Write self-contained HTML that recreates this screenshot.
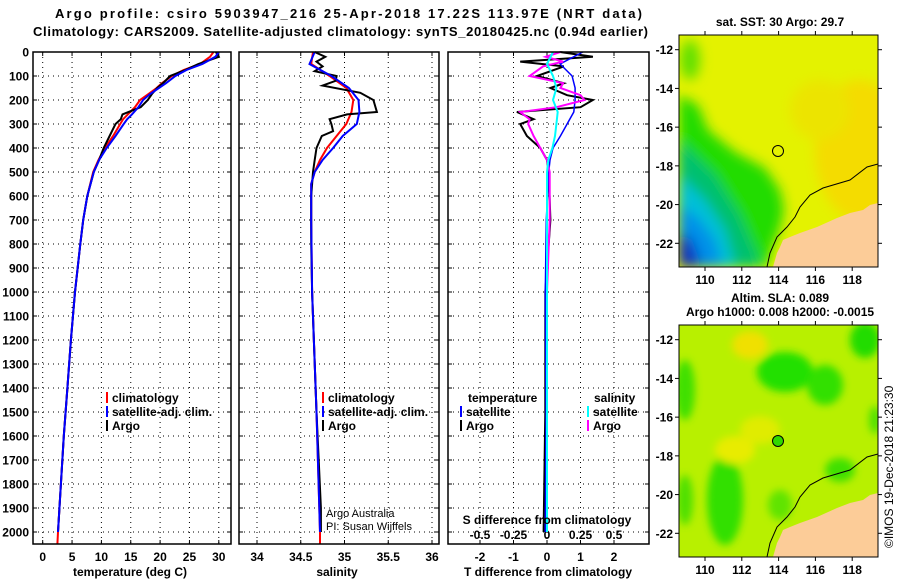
<!DOCTYPE html>
<html><head><meta charset="utf-8">
<style>
html,body{margin:0;padding:0;background:#fff;}
svg{display:block;font-family:"Liberation Sans",sans-serif;font-weight:bold;}
</style></head>
<body>
<svg id="c" width="900" height="580" viewBox="0 0 900 580" xmlns="http://www.w3.org/2000/svg">
<defs>
<filter id="blur" x="-50%" y="-50%" width="200%" height="200%"><feGaussianBlur stdDeviation="6"/></filter>
<filter id="blur2" x="-50%" y="-50%" width="200%" height="200%"><feGaussianBlur stdDeviation="4"/></filter>
<clipPath id="m1"><rect x="679" y="35" width="199" height="232"/></clipPath>
<clipPath id="m2"><rect x="679" y="325" width="199" height="232"/></clipPath>
</defs>
<text x="55" y="18" font-size="13" textLength="587">Argo profile: csiro 5903947_216 25-Apr-2018 17.22S 113.97E (NRT data)</text>
<text x="33" y="36" font-size="13" textLength="615">Climatology: CARS2009. Satellite-adjusted climatology: synTS_20180425.nc (0.94d earlier)</text>
<g id="plots"></g>
<!-- map 1 -->
<g>
<text x="780" y="26" font-size="12" text-anchor="middle">sat. SST: 30 Argo: 29.7</text>
<g clip-path="url(#m1)">
<rect x="679" y="35" width="199" height="232" fill="#e4f200"/>
<g filter="url(#blur)">
<ellipse cx="860" cy="150" rx="45" ry="70" fill="#f4dc00"/>
<ellipse cx="820" cy="110" rx="30" ry="30" fill="#ece400"/>
<polygon points="679,95 698,105 708,130 735,152 765,168 780,190 784,210 780,228 772,248 767,267 679,267" fill="#20dc00"/>
<polygon points="679,140 715,175 740,215 755,250 760,267 679,267" fill="#00c070"/>
<polygon points="679,175 705,200 725,230 735,267 679,267" fill="#00c0d8"/>
<polygon points="679,205 698,218 715,240 722,267 679,267" fill="#0090e8"/>
<polygon points="679,232 692,240 702,267 679,267" fill="#1030c0"/>
<ellipse cx="690" cy="60" rx="10" ry="20" fill="#60e000"/>
</g>
<polygon points="878,203 870,205 863,210 850,213 837,218 817,227 800,233 790,237 783,240 780,247 777,253 773,267 878,267" fill="#fccc98"/>
<polyline points="878,164 867,167 850,180 823,188 810,195 800,207 795,217 787,227 777,237 770,253 767,267" fill="none" stroke="#000" stroke-width="1"/>
</g>
<rect x="679" y="35" width="199" height="232" fill="none" stroke="#000"/>
<circle cx="778" cy="151" r="5.5" fill="none" stroke="#000"/>
<g id="map1ax"></g>
</g>
<!-- map 2 -->
<g>
<text x="780" y="302" font-size="12" text-anchor="middle">Altim. SLA: 0.089</text>
<text x="780" y="316" font-size="12" text-anchor="middle">Argo h1000: 0.008 h2000: -0.0015</text>
<g clip-path="url(#m2)">
<rect x="679" y="325" width="199" height="232" fill="#b8f000"/>
<g filter="url(#blur2)">
<ellipse cx="750" cy="345" rx="18" ry="14" fill="#f0e000"/>
<ellipse cx="785" cy="372" rx="28" ry="20" fill="#20e000"/>
<ellipse cx="825" cy="385" rx="18" ry="20" fill="#30e000"/>
<ellipse cx="865" cy="340" rx="15" ry="18" fill="#20dc00"/>
<ellipse cx="685" cy="390" rx="10" ry="30" fill="#40e000"/>
<ellipse cx="725" cy="500" rx="18" ry="45" fill="#30e000"/>
<ellipse cx="685" cy="500" rx="8" ry="25" fill="#50e000"/>
<ellipse cx="735" cy="450" rx="20" ry="14" fill="#e8ec00"/>
<ellipse cx="760" cy="430" rx="20" ry="14" fill="#e0ec00"/>
<ellipse cx="840" cy="470" rx="15" ry="12" fill="#40e000"/>
<ellipse cx="780" cy="505" rx="12" ry="15" fill="#60e400"/>
<ellipse cx="875" cy="420" rx="6" ry="14" fill="#50e000"/>
</g>
<polygon points="878,493 870,495 863,500 850,503 837,508 817,517 800,523 790,527 783,530 780,537 777,543 773,557 878,557" fill="#fccc98"/>
<polyline points="878,454 867,457 850,470 823,478 810,485 800,497 795,507 787,517 777,527 770,543 767,557" fill="none" stroke="#000" stroke-width="1"/>
</g>
<rect x="679" y="325" width="199" height="232" fill="none" stroke="#000"/>
<circle cx="778" cy="441" r="5.5" fill="#30d800" stroke="#000"/>
<g id="map2ax"></g>
<text transform="translate(893,548) rotate(-90)" font-size="12" font-weight="normal">©IMOS 19-Dec-2018 21:23:30</text>
</g>
</svg>
<script>
// ---- data ----
const depthTicks = [0,100,200,300,400,500,600,700,800,900,1000,1100,1200,1300,1400,1500,1600,1700,1800,1900,2000];
const tempTicks = [0,5,10,15,20,25,30];
const salTicks = [34,34.5,35,35.5,36];
const salTickLabels = ['34','34.5','35','35.5','36'];
const tdiffTicks = [-2,-1,0,1,2];
const sdiffTicks = [-0.5,-0.25,0,0.25,0.5];
const sdiffTickLabels = ['-0.5','-0.25','0','0.25','0.5'];

const tDepth = [0,20,50,75,100,130,150,175,200,230,260,280,300,350,400,450,500,600,700,800,1000,1200,1400,1600,1800,2000,2050];
const tClim = [29.1,28.5,26.8,24,22,20.3,19.4,18,16.6,15.7,14.5,13.7,13.2,12,10.6,9.5,8.6,7.6,6.9,6.4,5.5,4.8,4.2,3.6,3.1,2.6,2.5];
const tSatDepth = [0,20,50,75,100,130,150,175,200,230,260,280,300,350,400,450,500,600,700,800,1000,1200,1400,1600,1800,2000];
const tSat = [30,29.4,27.2,24.5,22.6,21,19.8,18.3,17.1,16.3,15.2,14.4,13.8,12.4,10.9,9.6,8.7,7.6,6.9,6.4,5.5,4.8,4.2,3.6,3.1,2.6];
const tArgoDepth = [0,20,50,75,100,130,150,175,200,230,260,280,300,350,400,450,500,600,700,800,1000,1200,1400,1600,1800,2000];
const tArgo = [29.5,30,26.5,24.3,21.7,20.5,19.5,18.6,17.9,16.7,13.6,13.3,12.4,11.4,10.4,9.6,8.7,7.6,6.9,6.4,5.5,4.8,4.2,3.6,3.1,2.6];

const sDepth = [0,50,100,150,200,250,300,350,400,450,500,550,700,1000,1500,2000,2050];
const sClim = [34.64,34.62,34.83,35.02,35.1,35.08,35.02,34.91,34.8,34.72,34.66,34.62,34.62,34.63,34.68,34.72,34.72];
const sSatDepth = [0,50,100,150,200,250,300,350,400,450,500,550,700,1000,1500,2000];
const sSat = [34.66,34.6,34.85,35.05,35.16,35.17,35.14,34.98,34.87,34.75,34.66,34.62,34.62,34.63,34.68,34.72];
const sArgoDepth = [0,20,40,60,80,100,120,140,170,200,250,260,280,300,330,350,400,450,500,600,800,1000,1500,1900,2000];
const sArgo = [34.66,34.78,34.68,34.75,34.66,34.91,34.9,34.75,35.18,35.33,35.37,35.03,34.83,34.85,34.87,34.74,34.68,34.66,34.64,34.62,34.62,34.63,34.68,34.73,34.73];

const dDepth = [0,50,100,150,200,250,300,350,400,450,500,700,1000,1500,2000];
const dTsat = [1.07,0.39,0.75,0.84,0.84,0.8,0.6,0.4,0.18,0.09,0.05,-0.02,-0.05,-0.03,-0.05];
const dSsat = [0.045,0,0.045,0.07,0.045,0.08,0.07,0.06,0.04,0.01,0,0,0,0,0];
const aDepth = [0,20,40,60,100,130,150,180,200,230,250,280,300,350,400,450,500,700,1000,1500,2000];
const dTargo = [0.39,1.37,-0.8,0.5,-0.3,0.5,0.1,0.6,1.37,1.0,-0.9,-0.4,-0.8,-0.6,-0.2,0,0.05,0.1,-0.05,-0.05,-0.1];
const dSargo = [0.1,-0.01,0.12,-0.03,-0.13,0.12,0.1,0.25,0.28,0.07,-0.2,-0.13,-0.14,-0.1,-0.05,0,0.02,0.02,0,0,0];

const lonTicks = [110,112,114,116,118];
const latTicks = [-12,-14,-16,-18,-20,-22];

// ---- geometry ----
const NS = 'http://www.w3.org/2000/svg';
const TOP = 52, BOT = 544;
const yD = d => TOP + d * 0.24;
const xT = v => 42.7 + v * 5.87;
const xS = v => 257 + (v - 34) * 87.5;
const xTd = v => 547 + v * 33.5;
const xSd = v => 547 + v * 134;
const panels = [[33,231],[239,439],[448,649]];
const root = document.getElementById('plots');
function mk(tag, attrs, parent, text){
  const e = document.createElementNS(NS, tag);
  for (const k in attrs) e.setAttribute(k, attrs[k]);
  if (text !== undefined) e.textContent = text;
  (parent || root).appendChild(e);
  return e;
}
function line(xs, ds, xf, color, w, name){
  const pts = xs.map((v,i) => xf(v).toFixed(1) + ',' + yD(ds[i]).toFixed(1)).join(' ');
  const p = mk('polyline', {points: pts, fill: 'none', stroke: color, 'stroke-width': w});
  
  
}
panels.forEach((p, pi) => {
  depthTicks.forEach(d => {
    const g = mk('line', {x1: p[0], x2: p[1], y1: yD(d), y2: yD(d), stroke: '#000', 'stroke-width': 1, 'stroke-dasharray': '1,4'});
    
    
    mk('line', {x1: p[0], x2: p[0]+4, y1: yD(d), y2: yD(d), stroke: '#000'});
    mk('line', {x1: p[1]-4, x2: p[1], y1: yD(d), y2: yD(d), stroke: '#000'});
  });
});
depthTicks.forEach(d => {
  const t = mk('text', {x: 29, y: yD(d) + 4.5, 'font-size': 12, 'text-anchor': 'end'}, root, String(d));
  
  
});
function xaxis(ticks, labels, xf, pi){
  ticks.forEach((v, i) => {
    const x = xf(v);
    const g = mk('line', {x1: x, x2: x, y1: TOP, y2: BOT, stroke: '#000', 'stroke-dasharray': '1,4'});
    
    
    mk('line', {x1: x, x2: x, y1: BOT-4, y2: BOT, stroke: '#000'});
    mk('line', {x1: x, x2: x, y1: TOP, y2: TOP+4, stroke: '#000'});
    const t = mk('text', {x: x, y: 561, 'font-size': 12, 'text-anchor': 'middle'}, root, labels[i]);
    
    
  });
}
xaxis(tempTicks, tempTicks.map(String), xT, 0);
xaxis(salTicks, salTickLabels, xS, 1);
xaxis(tdiffTicks, tdiffTicks.map(String), xTd, 2);
sdiffTicks.forEach((v, i) => {
  const t = mk('text', {x: xSd(v), y: 539, 'font-size': 12, 'text-anchor': 'middle'}, root, sdiffTickLabels[i]);
  
  
});
line(tClim, tDepth, xT, '#f00', 2, 'temp-climatology-line');
line(tArgo, tArgoDepth, xT, '#000', 2, 'temp-argo-line');
line(tSat, tSatDepth, xT, '#00f', 2, 'temp-satellite-line');
line(sClim, sDepth, xS, '#f00', 2, 'sal-climatology-line');
line(sArgo, sArgoDepth, xS, '#000', 2, 'sal-argo-line');
line(sSat, sSatDepth, xS, '#00f', 2, 'sal-satellite-line');
line(dTargo, aDepth, xTd, '#000', 2, 'tdiff-argo-line');
line(dTsat, dDepth, xTd, '#00f', 1.5, 'tdiff-satellite-line');
line(dSargo, aDepth, xSd, '#f0f', 2, 'sdiff-argo-line');
line(dSsat, dDepth, xSd, '#0ff', 2, 'sdiff-satellite-line');
panels.forEach((p, pi) => {
  const r = mk('rect', {x: p[0], y: TOP, width: p[1]-p[0], height: BOT-TOP, fill: 'none', stroke: '#000', 'stroke-width': 1.5});
  
  
});
[['temperature (deg C)', 130, 'temp-axis-title'], ['salinity', 337, 'sal-axis-title'], ['T difference from climatology', 548, 'tdiff-axis-title']].forEach(a => {
  const t = mk('text', {x: a[1], y: 576, 'font-size': 12, 'text-anchor': 'middle'}, root, a[0]);
  
  
});
const sdt = mk('text', {x: 547, y: 524, 'font-size': 12, 'text-anchor': 'middle'}, root, 'S difference from climatology');


function leg(x, y, color, label){
  if (color) mk('rect', {x: x, y: y-10, width: 2, height: 11, fill: color});
  const t = mk('text', {x: x+6, y: y, 'font-size': 12}, root, label);
  
  
}
leg(106, 402, '#f00', 'climatology'); leg(106, 416, '#00f', 'satellite-adj. clim.'); leg(106, 430, '#000', 'Argo');
leg(322, 402, '#f00', 'climatology'); leg(322, 416, '#00f', 'satellite-adj. clim.'); leg(322, 430, '#000', 'Argo');
leg(462, 402, null, 'temperature'); leg(460, 416, '#00f', 'satellite'); leg(460, 430, '#000', 'Argo');
leg(588, 402, null, 'salinity'); leg(587, 416, '#0ff', 'satellite'); leg(587, 430, '#f0f', 'Argo');
const c1 = mk('text', {x: 326, y: 517, 'font-size': 11, 'font-weight': 'normal'}, root, 'Argo Australia');


const c2 = mk('text', {x: 326, y: 530, 'font-size': 11, 'font-weight': 'normal'}, root, 'PI: Susan Wijffels');


const lonX = v => 705 + (v - 110) * 18.4;
const latY = (v, off) => off + 49.7 + (-12 - v) * 19.36;
[[document.getElementById('map1ax'), 0], [document.getElementById('map2ax'), 290]].forEach(m => {
  const g = m[0], off = m[1];
  lonTicks.forEach(v => {
    mk('line', {x1: lonX(v), x2: lonX(v), y1: 35+off, y2: 31+off, stroke: '#000'}, g);
    mk('line', {x1: lonX(v), x2: lonX(v), y1: 267+off, y2: 271+off, stroke: '#000'}, g);
    const t = mk('text', {x: lonX(v), y: 284+off, 'font-size': 12, 'text-anchor': 'middle'}, g, String(v));
    
    
  });
  latTicks.forEach(v => {
    mk('line', {x1: 675, x2: 679, y1: latY(v, off), y2: latY(v, off), stroke: '#000'}, g);
    mk('line', {x1: 878, x2: 882, y1: latY(v, off), y2: latY(v, off), stroke: '#000'}, g);
    const t = mk('text', {x: 673, y: latY(v, off)+4.5, 'font-size': 12, 'text-anchor': 'end'}, g, String(v));
    
    
  });
});
</script>
</body></html>
